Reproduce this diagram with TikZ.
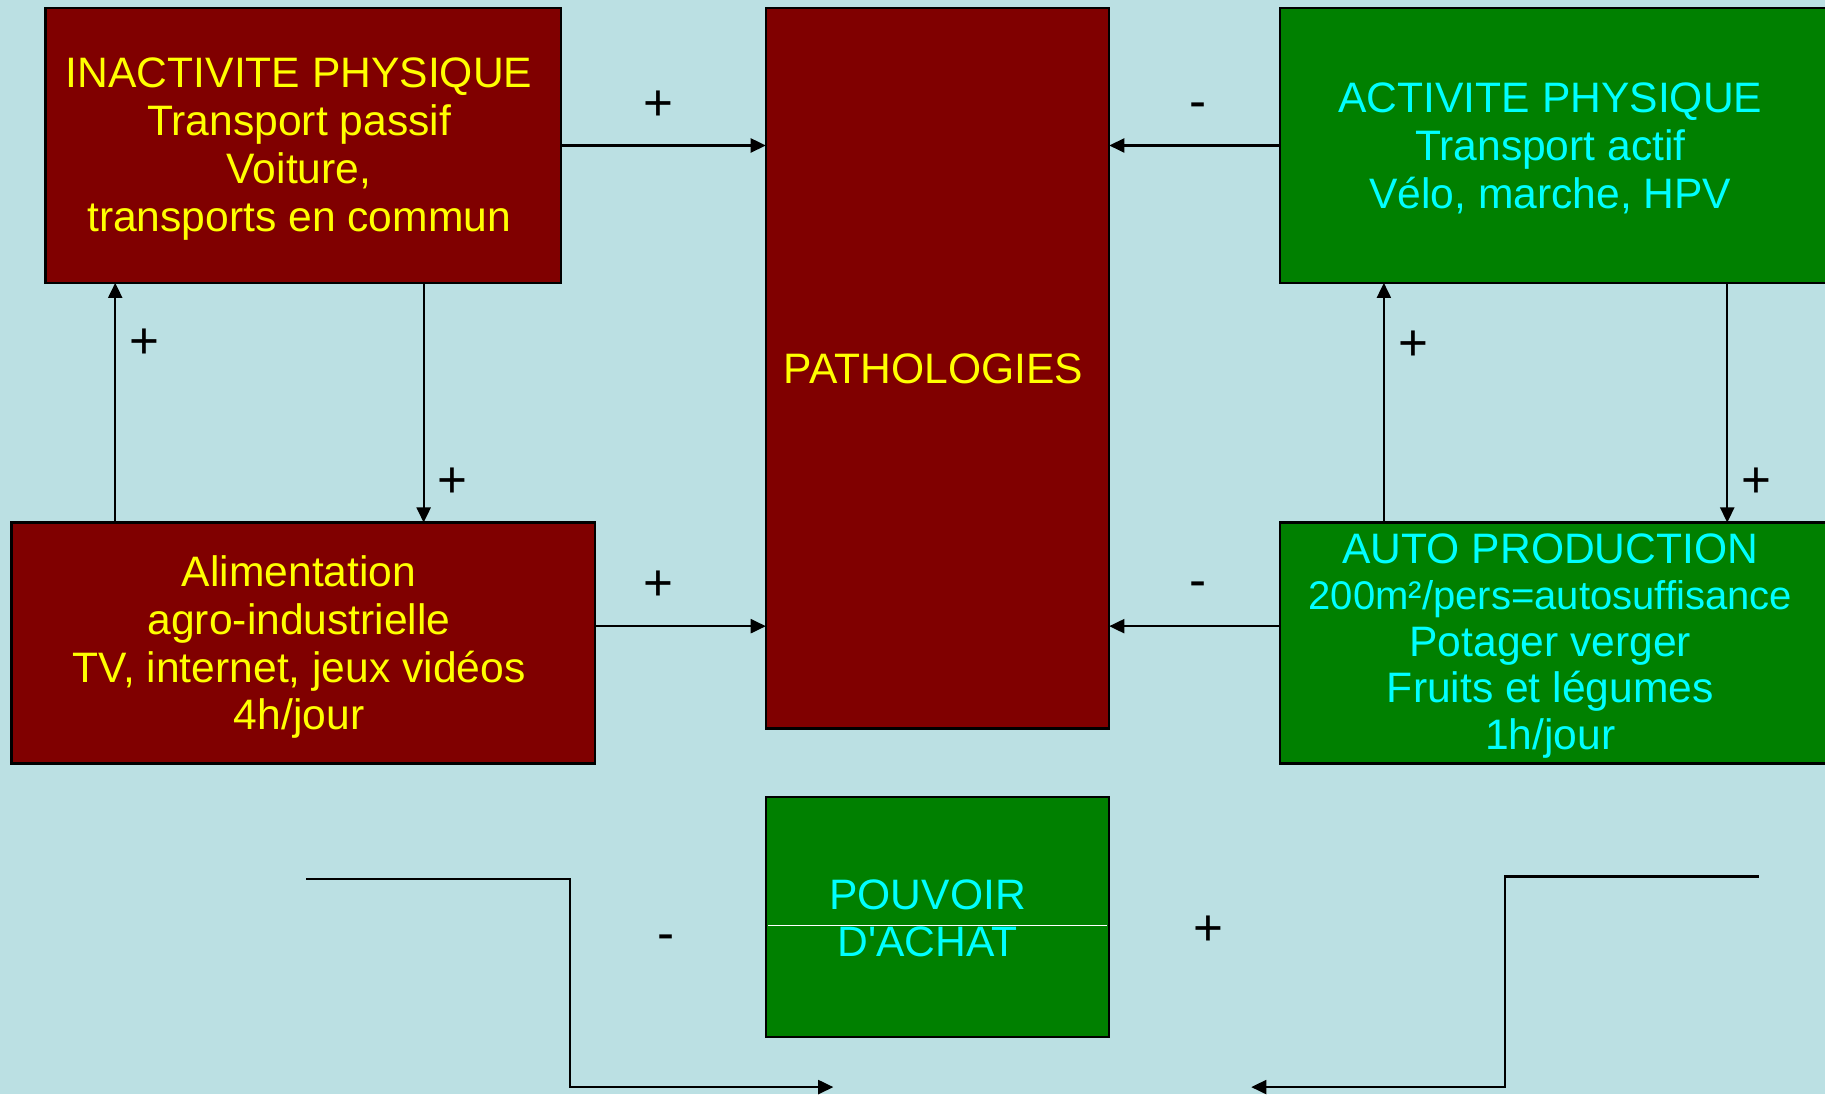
\documentclass[tikz,border=0pt]{standalone}
\usepackage{fontspec}
\setmainfont{Liberation Sans}
\usetikzlibrary{arrows.meta,fit,calc}
\definecolor{bg}{HTML}{BBE0E3}
\definecolor{dred}{HTML}{800000}
\definecolor{dgreen}{HTML}{008000}
\definecolor{ytxt}{HTML}{FFFF00}
\definecolor{ctxt}{HTML}{00FFFF}
\begin{document}
\begin{tikzpicture}[x=0.5pt,y=-0.5pt,
 box/.style={draw=black, line width=1pt, inner sep=0pt, outer sep=0pt},
 redbox/.style={box, fill=dred},
 greenbox/.style={box, fill=dgreen},
 txt/.style={align=center, inner sep=0pt, font=\fontsize{18.3}{20.5}\selectfont},
 ytext/.style={txt, text=ytxt},
 ctext/.style={txt, text=ctxt},
 arr/.style={line width=1pt, -{Triangle[length=6.5pt,width=6pt]}},
 sign/.style={font=\fontsize{22}{22}\selectfont, inner sep=0pt}]
\fill[bg] (0,0) rectangle (1568,940);
\useasboundingbox (0,0) rectangle (1568,940);

% boxes
\node[redbox, fit={(39,7)(482,243)}] (inact) {};
\node[redbox, fit={(658,7)(953,626)}] (path) {};
\node[greenbox, fit={(1100,7)(1572,243)}] (act) {};
\node[redbox, fit={(10,449)(511,656)}] (alim) {};
\node[greenbox, fit={(1100,449)(1572,656)}] (auto) {};
\node[greenbox, fit={(658,685)(953,891)}] (pouv) {};
\draw[white, line width=0.5pt] ($(pouv.west)+(2,7)$) -- ($(pouv.east)+(-2,7)$);

% texts
\node[ytext] (inactT) at (257,128) {INACTIVITE PHYSIQUE\\Transport passif\\Voiture,\\transports en commun};
\node[ytext] (pathT) at (802,317) {PATHOLOGIES};
\node[ctext] (actT) at (1332,127.5) {ACTIVITE PHYSIQUE\\Transport actif\\Vélo, marche, HPV};
\node[ytext] (alimT) at (257,556) {Alimentation\\agro-industrielle\\TV, internet, jeux vidéos\\4h/jour};
\node[ctext, font=\fontsize{18.3}{20}\selectfont] (autoT) at (1332,555) {AUTO PRODUCTION\\{\fontsize{17.2}{20}\selectfont 200m²/pers=autosuffisance}\\Potager verger\\Fruits et légumes\\1h/jour};
\node[ctext] (pouvT) at (797,789) {POUVOIR\\D\textquotesingle ACHAT};

% signs
\node[sign] (s1) at (566,91) {+};
\node[sign] (s2) at (1029,95) {-};
\node[sign] (s3) at (566,503) {+};
\node[sign] (s4) at (1029,507) {-};
\node[sign] (s5) at (124,295) {+};
\node[sign] (s6) at (389,415) {+};
\node[sign] (s7) at (1214,297) {+};
\node[sign] (s8) at (1509,415) {+};
\node[sign] (s9) at (572,810) {-};
\node[sign] (s10) at (1038,800) {+};

% horizontal connectors
\draw[arr] (inact.east) -- (inact.east -| path.west);
\draw[arr] (act.west) -- (act.west -| path.east);
\coordinate (a3) at ($(alim.east)+(0,-14.5)$);
\draw[arr] (a3) -- (a3 -| path.west);
\coordinate (a4) at ($(auto.west)+(0,-14.5)$);
\draw[arr] (a4) -- (a4 -| path.east);

% vertical connectors
\coordinate (v1) at ($(alim.north west)+(89,0)$);
\draw[arr] (v1) -- (v1 |- inact.south);
\coordinate (v2) at ($(inact.south west)+(325,0)$);
\draw[arr] (v2) -- (v2 |- alim.north);
\coordinate (v3) at ($(auto.north west)+(89,0)$);
\draw[arr] (v3) -- (v3 |- act.south);
\coordinate (v4) at ($(act.south west)+(384,0)$);
\draw[arr] (v4) -- (v4 |- auto.north);

% bottom connectors
\coordinate (bl1) at (263,755);
\coordinate (bl2) at (490,755);
\coordinate (bl3) at (716,934);
\draw[arr] (bl1) -- (bl2) |- (bl3);
\coordinate (br1) at (1511,753);
\coordinate (br2) at (1293,753);
\coordinate (br3) at (1075,934);
\draw[arr] (br1) -- (br2) |- (br3);
\end{tikzpicture}
\end{document}
